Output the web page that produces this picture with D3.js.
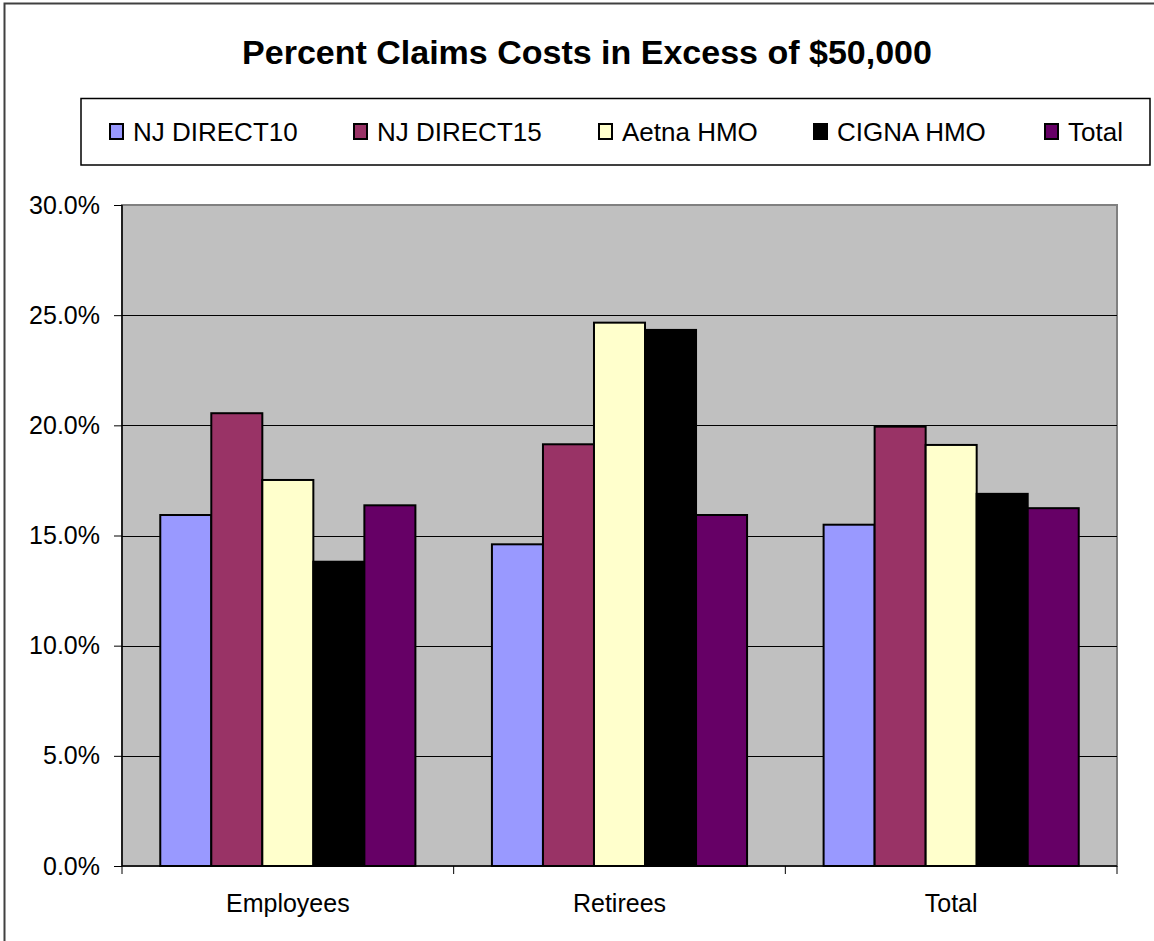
<!DOCTYPE html>
<html><head><meta charset="utf-8">
<script src="https://cdn.jsdelivr.net/npm/d3@7"></script>
<style>body{margin:0;background:#fff}svg{display:block;font-family:"Liberation Sans",Arial,sans-serif}</style>
</head><body><svg id="c" width="1154" height="941"></svg>
<script>
const title = "Percent Claims Costs in Excess of $50,000";
const categories = ["Employees", "Retirees", "Total"];
const seriesNames = ["NJ DIRECT10", "NJ DIRECT15", "Aetna HMO", "CIGNA HMO", "Total"];
const seriesColors = ["#9999FF", "#993366", "#FFFFCC", "#000000", "#660066"];
const njDirect10 = [0.1593, 0.1460, 0.1549];
const njDirect15 = [0.2055, 0.1914, 0.1994];
const aetnaHMO   = [0.1752, 0.2466, 0.1911];
const cignaHMO   = [0.1381, 0.2433, 0.1689];
const totalSeries = [0.1637, 0.1593, 0.1624];
const yTicks = [0, 0.05, 0.10, 0.15, 0.20, 0.25, 0.30];
const legendX = [109, 353, 598, 813, 1044];

(function(){
const seriesValues = [njDirect10, njDirect15, aetnaHMO, cignaHMO, totalSeries];
const svg = d3.select("#c");

// chart frame
svg.append("rect").attr("x",4.5).attr("y",3.5).attr("width",1300).attr("height",1100)
  .attr("fill","none").attr("stroke","#404040").attr("stroke-width",2);

// title
svg.append("text").attr("x",587).attr("y",64).attr("text-anchor","middle")
  .attr("font-weight","bold").attr("font-size",34).attr("fill","#000").text(title);

// legend
svg.append("rect").attr("x",81).attr("y",98.5).attr("width",1069).attr("height",66.5)
  .attr("fill","#fff").attr("stroke","#000").attr("stroke-width",1.5);
const lg = svg.append("g").selectAll("g").data(seriesNames).join("g")
  .attr("transform",(d,i)=>`translate(${legendX[i]},0)`);
lg.append("rect").attr("x",1).attr("y",124).attr("width",13).attr("height",15)
  .attr("fill",(d,i)=>seriesColors[i]).attr("stroke","#000").attr("stroke-width",2);
lg.append("text").attr("x",24).attr("y",141).attr("font-size",26).attr("fill","#000").text(d=>d);

// plot
const pL = 122, pR = 1117, pT = 205, pB = 866;
const y = d3.scaleLinear().domain([0,0.30]).range([pB, pT]);
const x0 = d3.scaleBand().domain(categories).range([pL,pR])
  .paddingInner(1.5/6.5).paddingOuter(0.75/6.5);
const x1 = d3.scaleBand().domain(d3.range(seriesNames.length)).range([0,x0.bandwidth()]).padding(0);

svg.append("rect").attr("x",pL).attr("y",pT).attr("width",pR-pL).attr("height",pB-pT)
  .attr("fill","#C0C0C0").attr("stroke","#808080").attr("stroke-width",2);

// gridlines
svg.append("g").selectAll("line").data(yTicks.filter(t=>t>0 && t<0.30)).join("line")
  .attr("x1",pL).attr("x2",pR).attr("y1",d=>Math.round(y(d))+0.5).attr("y2",d=>Math.round(y(d))+0.5)
  .attr("stroke","#000").attr("stroke-width",1);

// bars
const groups = svg.append("g").selectAll("g").data(categories).join("g")
  .attr("transform",d=>`translate(${x0(d)},0)`);
groups.selectAll("rect").data((c,ci)=>seriesValues.map((s,si)=>({si, v:s[ci]}))).join("rect")
  .attr("x",d=>x1(d.si)).attr("width",x1.bandwidth())
  .attr("y",d=>y(d.v)).attr("height",d=>y(0)-y(d.v))
  .attr("fill",d=>seriesColors[d.si]).attr("stroke","#000").attr("stroke-width",2);

// y axis
const yAxis = d3.axisLeft(y).tickValues(yTicks).tickFormat(d3.format(".1%")).tickSize(8).tickPadding(14);
const ya = svg.append("g").attr("transform",`translate(${pL},0)`).call(yAxis);
ya.select(".domain").attr("stroke","#000").attr("stroke-width",1.5).attr("d",`M0,${pT}V${pB}`);
ya.selectAll(".tick line").attr("stroke","#000");
ya.selectAll("text").attr("font-size",25).attr("fill","#000").attr("font-family","Liberation Sans, Arial, sans-serif");

// x axis
const xa = svg.append("g").attr("transform",`translate(0,${pB})`);
xa.append("line").attr("x1",pL).attr("x2",pR).attr("y1",0).attr("y2",0).attr("stroke","#000").attr("stroke-width",1.5);
const bounds = [pL, ...categories.slice(1).map(c=>x0(c)-x0.step()*x0.paddingInner()/2), pR];
xa.selectAll(".xt").data(bounds).join("line").attr("class","xt")
  .attr("x1",d=>d).attr("x2",d=>d).attr("y1",0).attr("y2",8).attr("stroke","#000");
xa.selectAll(".xl").data(categories).join("text").attr("class","xl")
  .attr("x",d=>x0(d)+x0.bandwidth()/2).attr("y",46).attr("text-anchor","middle")
  .attr("font-size",25).attr("fill","#000").text(d=>d);
})();
</script></body></html>
